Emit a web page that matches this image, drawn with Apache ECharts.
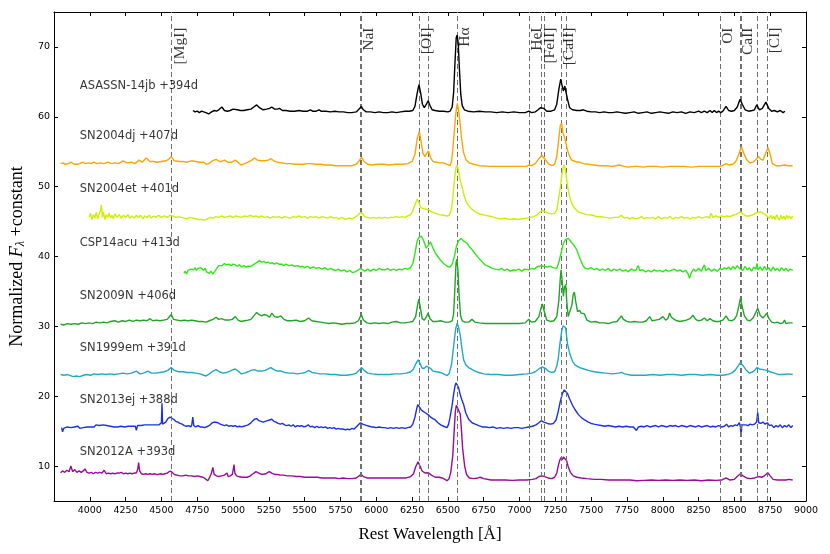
<!DOCTYPE html>
<html>
<head>
<meta charset="utf-8">
<script src="https://cdn.jsdelivr.net/npm/echarts@6/dist/echarts.min.js"></script>
<style>
html, body { margin: 0; padding: 0; background: #fff; }
#chart { width: 830px; height: 554px; }
</style>
</head>
<body>
<div id="chart"></div>
<script>
// spectra: [rest wavelength (A), normalized flux + offset]
const asassn14jb = [[4720,60.9],[4735,60.7],[4750,60.8],[4765,60.6],[4780,60.8],[4795,60.7],[4810,60.6],[4830,60.4],[4850,60.7],[4870,60.9],[4885,60.8],[4900,61.0],[4922,61.4],[4940,60.9],[4960,60.8],[4980,60.9],[5000,61.1],[5012,61.3],[5030,61.0],[5050,60.9],[5075,60.9],[5100,61.0],[5125,61.1],[5145,61.4],[5165,61.7],[5185,61.3],[5210,61.0],[5235,61.1],[5255,61.2],[5270,61.4],[5290,61.1],[5310,61.1],[5324,61.2],[5345,60.9],[5370,60.9],[5400,60.8],[5430,60.8],[5460,60.9],[5490,60.8],[5520,60.8],[5540,61.0],[5555,60.8],[5580,60.8],[5600,61.0],[5615,60.8],[5650,60.8],[5680,60.7],[5710,60.8],[5740,60.7],[5770,60.7],[5800,60.6],[5830,60.6],[5860,60.7],[5880,61.1],[5895,61.5],[5910,61.0],[5930,60.7],[5960,60.7],[5990,60.6],[6020,60.7],[6050,60.6],[6080,60.6],[6110,60.7],[6140,60.6],[6170,60.7],[6200,60.8],[6230,60.8],[6255,60.9],[6270,61.5],[6285,63.3],[6298,64.6],[6310,63.4],[6322,61.8],[6335,61.3],[6350,61.8],[6362,62.3],[6375,61.6],[6390,61.0],[6410,60.9],[6440,60.8],[6470,60.8],[6500,60.7],[6515,60.8],[6530,61.4],[6540,63.5],[6550,68.0],[6558,71.3],[6565,71.7],[6572,70.5],[6580,67.0],[6590,63.2],[6600,61.6],[6615,61.0],[6640,60.8],[6680,60.7],[6720,60.8],[6760,60.7],[6800,60.7],[6840,60.6],[6880,60.7],[6920,60.6],[6960,60.7],[7000,60.6],[7040,60.6],[7065,60.8],[7085,60.6],[7110,60.7],[7130,61.0],[7145,61.3],[7155,61.5],[7170,61.2],[7190,60.8],[7220,60.8],[7245,61.0],[7260,61.8],[7275,64.0],[7288,65.4],[7298,64.4],[7306,63.7],[7316,64.4],[7324,64.3],[7335,62.5],[7350,61.3],[7370,61.0],[7400,60.9],[7425,60.9],[7445,61.0],[7470,60.8],[7500,60.7],[7530,60.7],[7560,60.6],[7590,60.7],[7620,60.6],[7650,60.6],[7680,60.7],[7710,60.6],[7740,60.5],[7770,60.6],[7800,60.7],[7830,60.5],[7860,60.6],[7890,60.7],[7920,60.5],[7950,60.6],[7980,60.7],[8010,60.6],[8040,60.5],[8070,60.7],[8100,60.6],[8130,60.7],[8160,60.5],[8190,60.7],[8220,60.6],[8250,60.8],[8270,60.6],[8290,60.8],[8310,60.6],[8330,60.9],[8345,60.6],[8360,60.9],[8375,60.6],[8390,60.8],[8405,60.6],[8420,60.8],[8442,61.5],[8460,60.9],[8480,60.8],[8500,60.9],[8520,61.4],[8540,62.5],[8555,61.8],[8575,61.0],[8600,60.8],[8625,60.9],[8640,61.0],[8656,61.7],[8675,61.0],[8695,61.2],[8720,62.1],[8740,61.2],[8760,60.8],[8780,60.9],[8800,60.7],[8820,60.9],[8840,60.6],[8853,60.8]];

const sn2004dj = [[3796,53.3],[3815,53.4],[3830,53.2],[3850,53.3],[3870,53.5],[3890,53.2],[3910,53.2],[3930,53.3],[3950,53.5],[3970,53.3],[3990,53.4],[4010,53.3],[4030,53.5],[4050,53.3],[4075,53.4],[4100,53.3],[4125,53.5],[4150,53.3],[4175,53.4],[4200,53.3],[4232,53.7],[4260,53.4],[4290,53.5],[4315,53.3],[4344,53.8],[4365,53.5],[4394,54.1],[4420,53.6],[4445,53.6],[4470,53.5],[4500,53.6],[4530,53.7],[4550,53.9],[4568,54.3],[4590,53.7],[4620,53.6],[4650,53.6],[4680,53.5],[4710,53.7],[4740,53.6],[4770,53.5],[4795,53.5],[4812,53.2],[4830,53.3],[4855,53.7],[4882,53.9],[4905,53.6],[4920,53.6],[4940,53.8],[4965,53.5],[4990,53.5],[5016,53.8],[5035,53.5],[5056,53.1],[5080,53.3],[5105,53.5],[5130,53.8],[5149,54.1],[5170,53.8],[5195,53.7],[5220,53.7],[5245,53.8],[5264,54.0],[5285,53.7],[5310,53.5],[5340,53.4],[5370,53.3],[5400,53.3],[5430,53.2],[5460,53.2],[5490,53.2],[5515,53.3],[5527,53.5],[5545,53.3],[5575,53.2],[5610,53.2],[5645,53.1],[5680,53.1],[5715,53.0],[5750,53.0],[5790,53.0],[5830,53.0],[5860,53.2],[5880,53.7],[5897,54.2],[5915,53.6],[5940,53.2],[5972,53.1],[6010,53.2],[6050,53.2],[6090,53.1],[6130,53.2],[6181,53.2],[6220,53.3],[6250,53.6],[6270,54.6],[6285,56.8],[6300,57.9],[6312,56.6],[6325,54.8],[6340,54.3],[6352,54.8],[6364,55.1],[6378,54.2],[6395,53.6],[6420,53.5],[6440,53.4],[6470,53.4],[6495,53.2],[6515,53.0],[6525,53.6],[6535,55.5],[6545,58.0],[6555,60.5],[6565,61.9],[6575,61.0],[6585,59.0],[6595,57.0],[6608,55.0],[6625,53.9],[6650,53.4],[6680,53.2],[6720,53.0],[6800,52.9],[6900,52.9],[7000,52.9],[7050,52.9],[7065,53.1],[7085,53.0],[7110,53.3],[7135,54.0],[7155,54.5],[7175,54.0],[7200,53.3],[7225,53.0],[7245,53.2],[7260,54.3],[7272,56.5],[7285,58.8],[7294,59.1],[7302,57.8],[7312,57.2],[7322,56.5],[7335,55.2],[7350,54.3],[7364,53.8],[7390,53.6],[7420,53.5],[7445,53.3],[7480,53.2],[7520,53.1],[7560,53.0],[7600,53.0],[7650,52.9],[7696,53.1],[7730,52.9],[7760,52.8],[7800,52.9],[7830,52.9],[7860,52.8],[7900,52.9],[7950,52.9],[8000,52.8],[8050,52.9],[8100,52.9],[8150,52.9],[8200,52.8],[8250,52.9],[8300,52.9],[8350,52.9],[8400,52.9],[8425,53.1],[8442,53.3],[8460,53.1],[8490,53.2],[8510,53.6],[8530,54.6],[8549,55.7],[8565,54.8],[8585,53.9],[8609,53.4],[8630,53.5],[8650,53.9],[8670,54.3],[8685,53.9],[8700,53.8],[8715,54.6],[8735,55.6],[8750,54.6],[8765,53.3],[8790,53.0],[8820,53.0],[8850,53.1],[8880,53.0],[8907,53.0]];

const sn2004et = [[3996,45.6],[4005,46.2],[4015,45.3],[4025,46.0],[4035,45.5],[4045,46.3],[4055,45.4],[4065,46.1],[4075,46.6],[4081,47.4],[4088,45.6],[4095,46.4],[4105,45.3],[4115,46.0],[4125,45.6],[4135,46.2],[4145,45.5],[4155,45.9],[4165,45.4],[4175,46.1],[4190,45.6],[4205,46.0],[4220,45.5],[4235,45.9],[4250,45.6],[4265,46.0],[4280,45.5],[4295,45.8],[4310,45.5],[4325,45.9],[4340,45.6],[4355,45.9],[4370,45.4],[4385,45.8],[4400,45.6],[4415,45.9],[4430,45.5],[4445,45.8],[4460,45.6],[4480,45.9],[4500,45.6],[4520,45.8],[4540,45.6],[4560,45.9],[4580,45.8],[4600,45.6],[4620,45.7],[4640,45.6],[4660,45.5],[4680,45.4],[4700,45.6],[4720,45.5],[4740,45.4],[4760,45.3],[4780,45.3],[4801,45.2],[4820,45.4],[4840,45.6],[4860,45.5],[4880,45.7],[4900,45.6],[4920,45.8],[4940,45.6],[4960,45.7],[4980,45.8],[5000,45.6],[5020,45.8],[5040,45.7],[5060,45.6],[5080,45.8],[5100,45.7],[5120,45.9],[5140,45.7],[5160,45.8],[5180,45.6],[5200,45.8],[5220,45.6],[5240,45.7],[5260,45.5],[5280,45.7],[5300,45.6],[5320,45.7],[5340,45.5],[5360,45.7],[5380,45.6],[5400,45.5],[5420,45.7],[5440,45.6],[5460,45.8],[5480,45.6],[5500,45.7],[5520,45.5],[5540,45.7],[5560,45.6],[5580,45.7],[5600,45.5],[5620,45.7],[5640,45.6],[5660,45.5],[5680,45.7],[5700,45.5],[5720,45.6],[5740,45.4],[5760,45.6],[5786,45.3],[5810,45.5],[5830,45.4],[5850,45.6],[5870,45.9],[5890,46.3],[5905,46.1],[5920,45.7],[5940,45.6],[5960,45.5],[5980,45.6],[6000,45.5],[6020,45.6],[6040,45.5],[6060,45.6],[6080,45.5],[6100,45.6],[6120,45.6],[6140,45.7],[6160,45.6],[6180,45.7],[6200,45.6],[6220,45.8],[6240,46.0],[6255,46.5],[6270,47.4],[6285,48.2],[6297,47.8],[6310,47.0],[6325,46.9],[6340,46.8],[6364,46.7],[6385,46.4],[6412,46.2],[6440,46.0],[6470,45.9],[6495,45.8],[6510,45.9],[6525,46.8],[6535,48.5],[6545,50.8],[6555,52.6],[6563,53.1],[6572,52.5],[6585,51.0],[6598,50.0],[6615,48.6],[6633,47.6],[6660,46.9],[6691,46.4],[6720,46.1],[6760,45.9],[6807,45.7],[6840,45.5],[6870,45.4],[6900,45.5],[6930,45.3],[6960,45.4],[6990,45.3],[7020,45.4],[7050,45.5],[7075,45.6],[7100,45.7],[7125,46.0],[7145,46.4],[7162,46.6],[7180,46.4],[7200,46.2],[7225,46.1],[7248,46.2],[7262,46.8],[7275,48.6],[7283,49.6],[7295,51.6],[7305,52.8],[7311,53.1],[7320,52.4],[7336,50.0],[7350,48.6],[7364,47.6],[7385,46.9],[7410,46.4],[7434,46.2],[7470,46.0],[7510,45.9],[7540,45.7],[7573,45.7],[7600,45.6],[7630,45.5],[7660,45.6],[7690,45.6],[7711,45.9],[7730,45.5],[7750,45.6],[7770,45.4],[7790,45.6],[7810,45.4],[7830,45.5],[7850,45.7],[7870,45.4],[7890,45.6],[7910,45.5],[7930,45.6],[7950,45.4],[7970,45.7],[7990,45.4],[8010,45.6],[8030,45.5],[8050,45.7],[8070,45.4],[8090,45.6],[8110,45.5],[8130,45.7],[8150,45.5],[8170,45.6],[8190,45.4],[8210,45.6],[8230,45.5],[8250,45.7],[8270,45.5],[8290,45.6],[8310,45.7],[8325,45.5],[8337,46.2],[8350,45.6],[8370,45.8],[8390,45.6],[8410,45.8],[8430,45.7],[8450,45.8],[8470,45.7],[8490,45.9],[8510,46.0],[8525,46.2],[8542,46.4],[8560,46.1],[8580,45.8],[8600,45.8],[8620,45.9],[8640,46.1],[8660,46.3],[8686,46.4],[8705,46.1],[8720,45.9],[8733,45.8],[8745,45.5],[8755,45.9],[8765,45.4],[8775,45.8],[8785,45.3],[8795,46.0],[8805,45.5],[8815,45.2],[8825,45.9],[8835,45.4],[8845,45.8],[8855,45.3],[8865,45.9],[8875,45.5],[8885,45.8],[8895,45.4],[8907,45.8]];

const csp14acu = [[4657,37.6],[4665,37.9],[4675,37.5],[4685,38.0],[4695,37.8],[4705,38.2],[4715,38.4],[4725,38.1],[4735,38.4],[4745,38.0],[4755,38.3],[4765,38.1],[4775,38.4],[4785,38.2],[4795,38.0],[4805,38.3],[4815,37.8],[4825,38.0],[4835,37.6],[4845,37.9],[4858,37.5],[4870,37.8],[4880,38.1],[4890,38.4],[4900,38.7],[4912,38.9],[4925,38.7],[4940,39.0],[4955,38.8],[4970,38.9],[4985,38.7],[5000,38.9],[5015,38.8],[5030,38.6],[5044,38.8],[5060,38.5],[5075,38.7],[5090,38.5],[5105,38.6],[5114,38.4],[5125,38.6],[5140,38.8],[5155,39.0],[5170,39.2],[5184,39.4],[5200,39.2],[5215,39.3],[5230,39.1],[5245,39.2],[5260,39.0],[5275,39.1],[5290,38.9],[5305,39.1],[5320,38.9],[5340,38.9],[5355,38.7],[5370,38.9],[5390,38.7],[5410,38.8],[5430,38.6],[5450,38.7],[5470,38.5],[5485,38.6],[5500,38.4],[5520,38.6],[5540,38.3],[5560,38.5],[5580,38.3],[5601,38.4],[5620,38.2],[5640,38.4],[5660,38.1],[5680,38.3],[5700,38.1],[5717,38.0],[5735,38.2],[5755,37.9],[5775,38.1],[5795,37.8],[5815,38.0],[5833,37.7],[5850,37.8],[5870,38.0],[5890,38.3],[5905,38.1],[5920,37.9],[5940,38.2],[5960,37.9],[5980,38.2],[6000,38.0],[6020,38.3],[6040,38.1],[6063,38.1],[6080,38.3],[6100,38.0],[6120,38.2],[6140,38.0],[6160,38.2],[6180,38.1],[6200,38.3],[6220,38.2],[6239,38.4],[6255,39.0],[6270,40.4],[6285,42.2],[6300,42.8],[6315,42.9],[6330,42.3],[6348,41.2],[6362,41.6],[6378,42.1],[6392,41.4],[6412,40.5],[6430,40.0],[6447,39.5],[6470,39.0],[6494,38.6],[6515,38.5],[6530,38.9],[6545,40.0],[6560,41.5],[6575,42.3],[6593,42.6],[6610,42.2],[6633,41.9],[6650,41.4],[6668,41.0],[6690,40.4],[6714,39.8],[6740,39.2],[6760,38.8],[6784,38.6],[6810,38.3],[6830,38.2],[6854,38.1],[6875,38.3],[6895,38.0],[6915,38.2],[6935,37.9],[6955,38.1],[6975,38.0],[6995,38.2],[7015,37.9],[7035,38.2],[7063,38.1],[7085,38.3],[7105,38.2],[7120,38.5],[7132,38.3],[7150,38.7],[7165,38.6],[7178,38.8],[7195,38.5],[7215,38.6],[7235,38.4],[7260,38.3],[7275,39.2],[7290,40.5],[7305,41.8],[7320,42.4],[7341,42.6],[7352,42.3],[7364,42.4],[7380,41.6],[7399,41.0],[7420,39.8],[7445,38.6],[7460,38.3],[7480,38.2],[7500,38.4],[7520,38.1],[7540,38.3],[7560,38.0],[7580,38.2],[7600,38.0],[7620,38.3],[7640,37.9],[7660,38.2],[7680,38.0],[7700,38.2],[7720,37.9],[7740,38.1],[7760,37.8],[7780,38.2],[7800,38.0],[7815,38.1],[7828,38.7],[7840,38.0],[7860,38.1],[7880,37.8],[7900,38.0],[7920,37.8],[7940,38.1],[7960,37.9],[7980,38.0],[8000,37.8],[8020,38.1],[8040,37.9],[8060,38.0],[8080,38.2],[8100,37.9],[8120,38.1],[8140,37.8],[8160,38.0],[8175,37.6],[8187,36.9],[8200,37.7],[8215,38.2],[8230,37.9],[8250,38.3],[8270,37.9],[8280,38.4],[8291,38.8],[8300,38.0],[8320,38.3],[8340,37.9],[8360,38.2],[8380,37.9],[8400,38.3],[8415,38.1],[8430,38.4],[8445,38.2],[8460,38.5],[8475,38.1],[8490,38.6],[8505,38.2],[8520,38.7],[8535,38.3],[8545,38.5],[8560,38.0],[8575,38.6],[8590,38.1],[8605,38.4],[8620,37.9],[8635,38.5],[8650,38.2],[8658,39.0],[8665,38.1],[8680,38.5],[8695,38.0],[8710,38.6],[8725,38.1],[8740,38.4],[8755,37.9],[8770,38.5],[8785,38.0],[8800,38.3],[8815,37.9],[8830,38.4],[8845,38.0],[8860,38.3],[8875,37.9],[8890,38.2],[8907,38.0]];

const sn2009n = [[3796,30.3],[3820,30.2],[3845,30.4],[3870,30.3],[3895,30.4],[3920,30.3],[3945,30.5],[3970,30.4],[3995,30.5],[4020,30.4],[4045,30.6],[4070,30.5],[4095,30.6],[4120,30.5],[4145,30.7],[4174,30.8],[4200,30.6],[4225,30.8],[4250,30.7],[4275,30.9],[4300,30.7],[4325,30.9],[4350,30.8],[4375,30.9],[4400,30.8],[4418,31.1],[4440,30.8],[4465,30.9],[4490,30.8],[4515,30.9],[4540,31.0],[4568,31.7],[4585,31.0],[4610,30.9],[4635,30.8],[4660,30.9],[4685,30.8],[4710,30.9],[4735,30.8],[4760,30.7],[4785,30.7],[4812,30.6],[4835,30.8],[4860,31.0],[4882,31.3],[4900,31.0],[4920,31.1],[4945,30.9],[4970,30.9],[4995,31.0],[5016,31.4],[5035,30.9],[5055,30.7],[5080,30.8],[5105,30.9],[5125,31.0],[5145,31.5],[5165,32.0],[5180,31.7],[5200,31.5],[5215,31.7],[5235,31.6],[5255,31.3],[5271,31.9],[5290,31.4],[5310,31.3],[5334,31.5],[5355,31.0],[5380,30.8],[5410,30.8],[5440,30.9],[5470,30.7],[5500,30.8],[5527,31.2],[5550,30.8],[5580,30.7],[5610,30.6],[5640,30.5],[5670,30.4],[5700,30.5],[5730,30.4],[5760,30.3],[5790,30.4],[5820,30.4],[5850,30.5],[5875,30.8],[5895,31.7],[5910,30.9],[5935,30.5],[5960,30.4],[5990,30.5],[6020,30.4],[6050,30.5],[6080,30.4],[6110,30.6],[6139,30.7],[6170,30.5],[6200,30.5],[6230,30.6],[6255,30.7],[6275,31.4],[6288,33.0],[6297,33.9],[6307,32.8],[6320,31.1],[6335,30.9],[6350,31.4],[6362,31.9],[6375,31.1],[6395,30.7],[6420,30.7],[6450,30.8],[6480,30.6],[6510,30.6],[6530,30.8],[6540,31.8],[6550,36.0],[6557,39.2],[6563,39.6],[6570,38.0],[6578,34.5],[6588,31.6],[6600,30.8],[6620,30.6],[6645,30.6],[6668,31.0],[6690,30.6],[6720,30.5],[6760,30.4],[6800,30.4],[6850,30.4],[6900,30.4],[6950,30.4],[7000,30.4],[7040,30.5],[7063,31.0],[7085,30.6],[7110,30.7],[7135,31.4],[7150,32.6],[7160,33.2],[7172,32.2],[7190,30.9],[7215,30.7],[7240,30.8],[7260,31.4],[7275,33.8],[7284,36.7],[7290,38.1],[7298,36.5],[7306,34.3],[7314,35.6],[7322,36.0],[7330,33.5],[7340,31.4],[7352,31.6],[7365,33.0],[7375,34.6],[7383,34.9],[7392,33.6],[7405,32.1],[7420,32.3],[7430,31.9],[7452,31.8],[7470,30.9],[7500,30.6],[7530,30.7],[7560,30.5],[7590,30.5],[7620,30.4],[7650,30.6],[7680,30.7],[7700,31.2],[7711,31.5],[7725,31.0],[7750,30.7],[7775,30.6],[7800,30.7],[7830,30.6],[7860,30.6],[7885,30.8],[7909,31.4],[7925,30.8],[7950,30.9],[7975,31.0],[8002,31.4],[8020,30.9],[8035,31.1],[8048,31.9],[8060,31.3],[8080,31.0],[8100,30.8],[8120,30.7],[8145,30.8],[8165,30.9],[8190,31.1],[8211,31.6],[8230,31.0],[8250,30.8],[8270,30.9],[8290,31.2],[8310,30.8],[8330,31.1],[8350,30.8],[8370,30.7],[8395,30.7],[8420,30.9],[8442,31.5],[8460,30.9],[8480,30.8],[8500,31.0],[8515,31.5],[8530,32.8],[8542,34.0],[8555,32.8],[8570,31.5],[8590,30.9],[8610,30.8],[8630,31.2],[8648,31.9],[8663,32.6],[8680,31.6],[8700,31.2],[8712,31.5],[8726,31.9],[8742,31.1],[8760,30.6],[8780,30.5],[8800,30.6],[8820,30.4],[8840,30.5],[8850,30.9],[8860,30.4],[8880,30.5],[8907,30.5]];

const sn1999em = [[3796,23.1],[3820,23.0],[3845,23.1],[3870,22.9],[3884,22.8],[3905,22.9],[3930,22.8],[3955,23.0],[3980,23.1],[4005,23.0],[4030,23.2],[4055,23.1],[4080,23.2],[4110,23.1],[4140,23.2],[4170,23.1],[4200,23.2],[4230,23.3],[4260,23.2],[4290,23.3],[4325,23.6],[4350,23.2],[4375,23.3],[4406,23.6],[4430,23.3],[4460,23.3],[4490,23.4],[4520,23.5],[4545,23.7],[4568,24.1],[4590,23.7],[4620,23.5],[4650,23.5],[4680,23.4],[4710,23.4],[4740,23.3],[4770,23.2],[4795,23.0],[4812,22.9],[4835,23.2],[4860,23.6],[4882,23.8],[4905,23.5],[4930,23.3],[4955,23.4],[4980,23.6],[5000,23.8],[5016,23.9],[5035,23.6],[5056,23.2],[5080,23.3],[5105,23.5],[5125,23.7],[5149,23.8],[5175,23.6],[5200,23.6],[5225,23.7],[5245,23.9],[5264,24.1],[5285,23.8],[5310,23.6],[5334,23.6],[5360,23.4],[5390,23.3],[5420,23.3],[5450,23.2],[5480,23.3],[5505,23.4],[5527,23.7],[5550,23.4],[5580,23.3],[5610,23.2],[5645,23.2],[5680,23.1],[5715,23.1],[5750,23.0],[5790,23.0],[5830,23.1],[5860,23.3],[5880,23.7],[5897,24.1],[5915,23.7],[5940,23.3],[5972,23.2],[6010,23.1],[6050,23.1],[6090,23.1],[6130,23.2],[6170,23.2],[6210,23.3],[6240,23.5],[6260,23.9],[6275,24.6],[6292,25.2],[6305,24.7],[6320,24.0],[6335,24.0],[6350,24.3],[6362,24.3],[6378,24.0],[6395,23.6],[6420,23.5],[6447,23.4],[6470,23.2],[6494,22.95],[6510,23.3],[6525,24.5],[6535,26.3],[6545,28.1],[6555,29.7],[6565,30.5],[6575,29.8],[6587,28.6],[6598,26.8],[6610,25.2],[6625,24.5],[6645,24.1],[6670,23.8],[6700,23.5],[6715,23.4],[6750,23.2],[6800,23.1],[6850,23.1],[6900,23.0],[6950,23.0],[7000,23.1],[7050,23.2],[7085,23.3],[7110,23.5],[7135,23.9],[7160,24.2],[7180,24.0],[7200,23.6],[7225,23.4],[7245,23.5],[7260,24.3],[7271,25.5],[7282,27.5],[7295,29.4],[7305,30.1],[7313,30.3],[7322,29.8],[7335,27.5],[7352,26.0],[7370,25.0],[7387,24.5],[7420,24.1],[7450,23.9],[7480,23.7],[7520,23.5],[7560,23.4],[7600,23.3],[7650,23.2],[7690,23.3],[7711,23.4],[7735,23.2],[7780,23.0],[7830,23.0],[7880,23.0],[7930,23.1],[7980,23.0],[8030,23.1],[8080,23.1],[8130,23.0],[8180,23.1],[8230,23.1],[8280,23.0],[8330,23.1],[8380,23.0],[8420,23.0],[8450,23.1],[8480,23.3],[8505,23.7],[8525,24.3],[8542,24.8],[8560,24.4],[8580,23.8],[8605,23.3],[8630,23.5],[8645,23.8],[8658,24.1],[8675,23.9],[8700,23.8],[8725,23.7],[8750,23.5],[8780,23.3],[8810,23.1],[8840,23.1],[8870,23.2],[8907,23.1]];

const sn2013ej = [[3803,15.5],[3810,14.9],[3818,15.4],[3830,15.3],[3842,15.6],[3855,15.4],[3868,15.5],[3880,15.3],[3893,15.6],[3905,15.5],[3918,15.7],[3930,15.4],[3943,15.6],[3955,15.5],[3968,15.7],[3980,15.6],[3993,15.8],[4005,15.6],[4018,15.7],[4030,15.6],[4043,15.9],[4055,15.7],[4068,15.8],[4080,15.6],[4093,15.9],[4105,15.7],[4118,15.8],[4130,15.6],[4143,15.7],[4155,15.9],[4168,15.6],[4180,15.8],[4193,15.6],[4205,15.8],[4218,15.7],[4230,15.9],[4243,15.6],[4255,15.8],[4268,15.7],[4280,15.8],[4293,15.7],[4305,15.6],[4318,15.7],[4325,15.1],[4333,15.8],[4345,15.7],[4358,15.8],[4370,15.7],[4383,15.9],[4395,15.7],[4408,15.9],[4420,15.8],[4433,15.9],[4445,15.7],[4458,15.9],[4470,15.8],[4483,15.9],[4495,15.8],[4500,16.2],[4504,19.0],[4508,16.0],[4515,15.8],[4530,16.3],[4545,16.8],[4560,17.0],[4570,17.1],[4585,16.7],[4600,16.4],[4615,16.3],[4630,16.1],[4645,16.0],[4660,15.8],[4675,15.7],[4690,15.8],[4705,15.6],[4712,15.9],[4719,17.0],[4726,15.8],[4740,15.6],[4755,15.8],[4770,15.6],[4785,15.6],[4800,15.5],[4812,15.4],[4825,15.7],[4840,15.9],[4855,16.2],[4870,16.3],[4882,16.4],[4895,16.2],[4910,16.0],[4925,15.9],[4940,15.8],[4955,15.9],[4970,15.7],[4985,15.8],[5000,15.7],[5015,15.8],[5030,15.6],[5045,15.7],[5060,15.6],[5075,15.7],[5090,15.8],[5105,15.9],[5120,16.1],[5135,16.4],[5150,16.7],[5165,16.8],[5180,16.5],[5195,16.4],[5210,16.3],[5225,16.4],[5240,16.5],[5255,16.6],[5270,16.7],[5285,16.4],[5300,16.3],[5315,16.1],[5330,16.0],[5345,16.1],[5360,15.9],[5375,15.8],[5390,15.9],[5405,15.7],[5420,15.9],[5435,15.6],[5450,15.8],[5465,15.7],[5480,15.8],[5495,15.6],[5510,15.7],[5525,15.9],[5540,15.6],[5555,15.7],[5570,15.5],[5585,15.7],[5600,15.5],[5615,15.6],[5630,15.5],[5645,15.6],[5660,15.4],[5675,15.5],[5690,15.4],[5705,15.5],[5720,15.3],[5735,15.4],[5750,15.3],[5765,15.3],[5786,15.2],[5800,15.3],[5815,15.2],[5830,15.4],[5845,15.3],[5860,15.6],[5875,15.9],[5890,16.2],[5905,16.0],[5920,15.9],[5935,15.8],[5950,15.7],[5965,15.6],[5980,15.6],[6000,15.5],[6020,15.6],[6040,15.5],[6060,15.5],[6080,15.4],[6100,15.5],[6120,15.4],[6140,15.5],[6160,15.4],[6180,15.5],[6200,15.4],[6220,15.5],[6240,15.6],[6255,16.0],[6270,17.0],[6282,18.2],[6290,18.8],[6300,18.5],[6315,18.0],[6330,17.8],[6345,17.6],[6358,17.7],[6365,17.3],[6380,17.0],[6395,16.8],[6412,16.6],[6430,16.2],[6450,15.9],[6470,15.7],[6494,15.5],[6505,16.0],[6515,17.0],[6528,18.5],[6540,20.3],[6550,21.5],[6556,21.9],[6565,21.6],[6575,21.2],[6585,20.3],[6597,19.5],[6610,18.8],[6625,17.6],[6645,16.7],[6668,16.2],[6691,16.0],[6715,15.8],[6740,15.6],[6765,15.6],[6790,15.5],[6815,15.6],[6840,15.4],[6865,15.5],[6890,15.4],[6915,15.5],[6940,15.4],[6965,15.5],[6990,15.5],[7015,15.4],[7040,15.5],[7065,15.6],[7090,15.7],[7115,15.9],[7135,16.2],[7151,16.5],[7170,16.3],[7195,16.1],[7215,16.0],[7237,16.1],[7255,16.6],[7270,17.8],[7285,19.3],[7300,20.4],[7312,20.9],[7322,21.1],[7335,20.4],[7350,19.6],[7370,18.7],[7387,18.1],[7410,17.4],[7434,16.9],[7455,16.6],[7480,16.3],[7500,16.1],[7520,16.0],[7545,15.9],[7570,15.8],[7595,15.7],[7620,15.8],[7645,15.7],[7670,15.6],[7695,15.7],[7720,15.6],[7745,15.7],[7770,15.6],[7795,15.6],[7816,15.1],[7830,15.6],[7850,15.7],[7870,15.6],[7890,15.8],[7910,15.6],[7930,15.7],[7950,15.8],[7970,15.6],[7990,15.8],[8010,15.7],[8030,15.6],[8050,15.8],[8070,15.7],[8090,15.8],[8110,15.6],[8130,15.8],[8150,15.7],[8170,15.6],[8190,15.8],[8210,15.7],[8230,15.6],[8250,15.8],[8270,15.6],[8290,15.7],[8310,15.8],[8330,15.6],[8350,15.7],[8370,15.6],[8390,15.8],[8410,15.6],[8430,15.7],[8445,16.0],[8460,15.6],[8475,15.8],[8490,15.7],[8505,15.9],[8520,15.8],[8535,16.2],[8542,15.6],[8547,14.3],[8552,15.9],[8565,15.8],[8580,15.9],[8595,15.8],[8610,16.0],[8625,15.9],[8640,16.0],[8655,16.3],[8663,17.7],[8670,16.2],[8685,16.1],[8700,16.3],[8715,16.0],[8730,16.2],[8745,15.8],[8760,15.9],[8775,15.5],[8790,15.8],[8805,15.6],[8820,15.9],[8835,15.5],[8850,15.8],[8865,15.6],[8880,15.9],[8895,15.5],[8907,15.8]];

const sn2012a = [[3796,9.05],[3810,9.3],[3825,9.1],[3840,9.4],[3855,9.2],[3868,10.0],[3880,9.2],[3895,9.5],[3910,9.1],[3925,9.3],[3940,9.1],[3955,9.3],[3966,9.6],[3980,9.1],[3995,9.0],[4010,9.1],[4025,8.9],[4040,9.1],[4055,9.0],[4070,9.1],[4085,9.0],[4100,9.4],[4115,8.9],[4130,9.0],[4145,8.9],[4160,9.0],[4175,8.9],[4190,9.0],[4205,9.0],[4220,9.1],[4235,8.9],[4250,9.0],[4265,8.9],[4280,9.0],[4295,8.9],[4310,9.0],[4325,9.0],[4335,9.6],[4341,10.5],[4348,9.3],[4360,8.9],[4375,8.8],[4390,8.9],[4405,8.8],[4420,8.9],[4435,8.8],[4450,8.9],[4465,8.8],[4480,8.8],[4495,8.9],[4510,8.8],[4525,8.9],[4540,9.0],[4561,9.3],[4575,9.1],[4590,8.8],[4610,8.7],[4630,8.6],[4650,8.6],[4670,8.7],[4690,8.6],[4710,8.6],[4730,8.5],[4750,8.6],[4770,8.5],[4790,8.4],[4805,8.2],[4815,8.0],[4824,7.9],[4835,8.3],[4848,8.9],[4859,9.8],[4868,8.8],[4885,8.6],[4900,8.5],[4920,8.6],[4940,8.7],[4958,9.0],[4966,8.5],[4980,8.6],[4995,8.8],[5002,9.6],[5007,10.2],[5013,9.0],[5025,8.6],[5040,8.5],[5060,8.4],[5080,8.4],[5100,8.4],[5120,8.6],[5140,8.9],[5160,9.2],[5180,9.0],[5200,8.8],[5229,8.9],[5253,9.2],[5270,9.0],[5290,8.8],[5310,8.8],[5330,8.7],[5350,8.7],[5380,8.6],[5410,8.6],[5440,8.5],[5470,8.5],[5500,8.4],[5530,8.4],[5560,8.4],[5590,8.4],[5620,8.3],[5650,8.3],[5680,8.3],[5710,8.3],[5740,8.2],[5770,8.3],[5800,8.2],[5830,8.2],[5860,8.3],[5880,8.6],[5895,8.8],[5910,8.5],[5935,8.3],[5972,8.3],[6010,8.3],[6050,8.3],[6090,8.3],[6130,8.3],[6170,8.3],[6210,8.3],[6240,8.5],[6260,8.9],[6275,9.9],[6292,10.6],[6305,10.0],[6320,9.3],[6340,9.0],[6364,9.05],[6385,8.7],[6412,8.4],[6440,8.4],[6459,8.3],[6480,8.1],[6494,7.9],[6508,8.2],[6520,9.1],[6534,11.5],[6545,15.5],[6552,17.8],[6559,18.7],[6568,18.3],[6580,17.7],[6587,17.4],[6595,15.0],[6603,12.5],[6617,10.0],[6630,8.8],[6650,8.3],[6680,8.2],[6710,8.3],[6726,8.4],[6750,8.2],[6800,8.0],[6850,8.0],[6900,8.0],[6950,7.95],[7000,8.0],[7050,8.0],[7090,8.1],[7115,8.2],[7135,8.5],[7155,8.6],[7175,8.5],[7200,8.3],[7225,8.2],[7245,8.4],[7260,9.0],[7271,10.1],[7282,10.9],[7290,11.2],[7298,10.9],[7306,11.3],[7317,11.5],[7328,10.8],[7340,9.9],[7355,9.1],[7375,8.6],[7400,8.4],[7430,8.3],[7470,8.2],[7520,8.1],[7570,8.1],[7620,8.0],[7670,8.0],[7720,8.0],[7770,8.0],[7820,7.9],[7870,7.95],[7920,8.0],[7970,7.95],[8020,8.0],[8070,7.95],[8120,8.0],[8170,7.95],[8220,8.0],[8270,7.9],[8320,8.0],[8370,7.95],[8410,8.0],[8442,8.3],[8470,8.0],[8500,8.1],[8520,8.5],[8542,8.9],[8560,8.6],[8585,8.3],[8610,8.2],[8640,8.3],[8670,8.5],[8690,8.4],[8710,8.6],[8733,9.05],[8750,8.6],[8770,8.1],[8800,8.0],[8830,8.0],[8860,8.0],[8880,8.1],[8907,8.0]];

const spectrumNames = ['ASASSN-14jb +394d', 'SN2004dj +407d', 'SN2004et +401d', 'CSP14acu +413d',
    'SN2009N +406d', 'SN1999em +391d', 'SN2013ej +388d', 'SN2012A +393d'];
const spectrumData = [asassn14jb, sn2004dj, sn2004et, csp14acu, sn2009n, sn1999em, sn2013ej, sn2012a];
// flux level where each name is written, and wavelength where it starts
const nameLevels = [64.4, 57.2, 49.6, 42.0, 34.4, 26.9, 19.4, 12.0];
const nameWave = 3930;

// identified lines (rest wavelengths) and their labels
const lineWaves = [4571, 5890, 5896, 6300, 6364, 6563, 7065, 7155, 7172, 7291, 7324, 8400, 8538, 8550, 8662, 8727];
const lineLabels = ['[MgI]', 'NaI', '[OI]', 'H\u03b1', 'HeI', '[FeII]', '[CaII]', 'OI', 'CaII', '[CI]'];
const lineLabelWaves = [4571, 5896, 6300, 6563, 7065, 7155, 7291, 8400, 8538, 8727];
const lineLabelLevel = 72.5;

const xTicks = { min: 3750, max: 9000, step: 250 };
const yTickValues = [10, 20, 30, 40, 50, 60, 70];

const colors = ['#000000', '#ffa500', '#cdf000', '#2ee81a', '#20a626', '#1eabc8', '#1a30e8', '#9a0a9c'];
const serif = '"Liberation Serif", "DejaVu Serif", serif';
const sans = '"DejaVu Sans", sans-serif';

const chart = echarts.init(document.getElementById('chart'));

const frameLine = { show: true, onZero: false, lineStyle: { color: '#000', width: 1 } };
const innerTick = { show: true, inside: true, length: 4, lineStyle: { color: '#000', width: 1 } };

const series = [];

series.push({
    type: 'line',
    data: [],
    silent: true,
    z: 1,
    markLine: {
        silent: true,
        symbol: ['none', 'none'],
        label: { show: false },
        lineStyle: { color: '#707070', width: 1, type: [5, 3] },
        data: lineWaves.map(w => ({ xAxis: w }))
    }
});

spectrumData.forEach((d, i) => {
    series.push({
        name: spectrumNames[i],
        type: 'line',
        data: d,
        showSymbol: false,
        symbol: 'none',
        z: 2 + (spectrumData.length - i),
        color: colors[i],
        lineStyle: { color: colors[i], width: 1.4 },
        silent: true
    });
});

series.push({
    type: 'scatter',
    silent: true,
    z: 20,
    symbolSize: 1,
    itemStyle: { color: 'transparent' },
    data: lineLabels.map((t, i) => ({ name: t, value: [lineLabelWaves[i], lineLabelLevel] })),
    label: {
        show: true,
        position: 'inside',
        formatter: '{b}',
        rotate: 90,
        align: 'right',
        verticalAlign: 'top',
        offset: [2, 0],
        fontFamily: serif,
        fontSize: 15.5,
        color: '#000',
        textBorderWidth: 0
    }
});

series.push({
    type: 'scatter',
    silent: true,
    z: 20,
    symbolSize: 1,
    itemStyle: { color: 'transparent' },
    data: spectrumNames.map((t, i) => ({ name: t, value: [nameWave, nameLevels[i]] })),
    label: {
        show: true,
        position: 'inside',
        formatter: '{b}',
        align: 'left',
        verticalAlign: 'middle',
        fontFamily: sans,
        fontSize: 11.5,
        color: '#000',
        textBorderWidth: 0
    }
});

chart.setOption({
    animation: false,
    backgroundColor: '#fff',
    grid: { left: 51, right: 24, top: 12, bottom: 53 },
    xAxis: [
        {
            type: 'value',
            min: xTicks.min,
            max: xTicks.max,
            interval: xTicks.step,
            position: 'bottom',
            axisLine: frameLine,
            axisTick: innerTick,
            splitLine: { show: false },
            axisLabel: {
                showMinLabel: false,
                margin: 5,
                formatter: v => String(v),
                fontFamily: sans,
                fontSize: 9.5,
                color: '#000'
            },
            name: 'Rest Wavelength [\u00c5]',
            nameLocation: 'middle',
            nameGap: 25,
            nameTextStyle: { fontFamily: serif, fontSize: 17, color: '#000' }
        },
        {
            type: 'value',
            min: xTicks.min,
            max: xTicks.max,
            interval: xTicks.step,
            position: 'top',
            axisLine: frameLine,
            axisTick: innerTick,
            splitLine: { show: false },
            axisLabel: { show: false }
        }
    ],
    yAxis: [
        {
            type: 'value',
            min: 5,
            max: 75,
            position: 'left',
            axisLine: frameLine,
            axisTick: Object.assign({}, innerTick, { customValues: yTickValues }),
            splitLine: { show: false },
            axisLabel: {
                customValues: yTickValues,
                margin: 4,
                formatter: v => String(v),
                fontFamily: sans,
                fontSize: 9.5,
                color: '#000'
            },
            name: '{n|Normalized }{f|F}{s|\u03bb}{n| +constant}',
            nameLocation: 'middle',
            nameRotate: 90,
            nameGap: 21,
            nameTextStyle: {
                fontFamily: serif,
                fontSize: 18,
                color: '#000',
                rich: {
                    n: { fontFamily: serif, fontSize: 18, color: '#000', lineHeight: 20, verticalAlign: 'middle' },
                    f: { fontFamily: serif, fontSize: 18, fontStyle: 'italic', color: '#000', lineHeight: 20, verticalAlign: 'middle' },
                    s: { fontFamily: serif, fontSize: 12, fontStyle: 'italic', color: '#000', lineHeight: 12, verticalAlign: 'bottom' }
                }
            }
        },
        {
            type: 'value',
            min: 5,
            max: 75,
            position: 'right',
            axisLine: frameLine,
            axisTick: Object.assign({}, innerTick, { customValues: yTickValues }),
            splitLine: { show: false },
            axisLabel: { show: false, customValues: yTickValues }
        }
    ],
    series: series
});
</script>
</body>
</html>
